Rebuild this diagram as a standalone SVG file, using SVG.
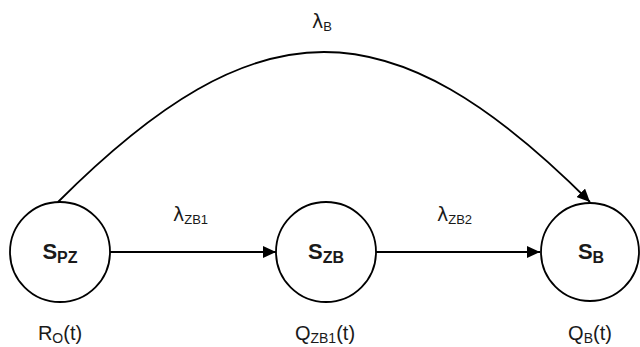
<svg xmlns="http://www.w3.org/2000/svg" width="640" height="347" viewBox="0 0 640 347">
<style>
.node{fill:#fff;stroke:#000;stroke-width:1.8}
.edge{fill:none;stroke:#000;stroke-width:1.8}
.nt{font-family:"Liberation Sans",Arial,sans-serif;font-weight:bold;font-size:22px;fill:#1a1a1a}
.ns{font-size:16px}
.lb{font-family:"Liberation Sans",Arial,sans-serif;font-size:20px;fill:#1a1a1a}
.ls{font-size:14px}
.el{font-family:"DejaVu Sans",sans-serif;font-size:19px;fill:#1a1a1a}
.es{font-family:"Liberation Sans",Arial,sans-serif;font-size:13px}
</style>
<defs>
<marker id="arr" markerUnits="userSpaceOnUse" markerWidth="14" markerHeight="12" refX="13" refY="6" orient="auto">
<path d="M0,0 L13,6 L0,12 Z" fill="#000"/>
</marker>
</defs>
<g id="connectors">
<line class="edge" x1="110" y1="252" x2="276" y2="252" marker-end="url(#arr)"/>
<line class="edge" x1="376" y1="252" x2="540" y2="252" marker-end="url(#arr)"/>
<path class="edge" d="M58,202 C258,2 390,2 590,202" marker-end="url(#arr)"/>
<text class="el" x="173" y="221">λ<tspan class="es" dy="3">ZB1</tspan></text>
<text class="el" x="437" y="221">λ<tspan class="es" dy="3">ZB2</tspan></text>
<text class="el" x="312" y="28">λ<tspan class="es" dy="3">B</tspan></text>
</g>
<g id="node-spz">
<circle class="node" cx="60" cy="252" r="50"/>
<text class="nt" x="60" y="259" text-anchor="middle">S<tspan class="ns" dy="4">PZ</tspan></text>
<text class="lb" x="60" y="340" text-anchor="middle">R<tspan class="ls" dy="3">O</tspan><tspan dy="-3">(t)</tspan></text>
</g>
<g id="node-szb">
<circle class="node" cx="326" cy="252" r="50"/>
<text class="nt" x="326" y="259" text-anchor="middle">S<tspan class="ns" dy="4">ZB</tspan></text>
<text class="lb" x="325" y="340" text-anchor="middle">Q<tspan class="ls" dy="3">ZB1</tspan><tspan dy="-3">(t)</tspan></text>
</g>
<g id="node-sb">
<circle class="node" cx="590" cy="252" r="49"/>
<text class="nt" x="591" y="259" text-anchor="middle">S<tspan class="ns" dy="4">B</tspan></text>
<text class="lb" x="590" y="340" text-anchor="middle">Q<tspan class="ls" dy="3">B</tspan><tspan dy="-3">(t)</tspan></text>
</g>
</svg>
